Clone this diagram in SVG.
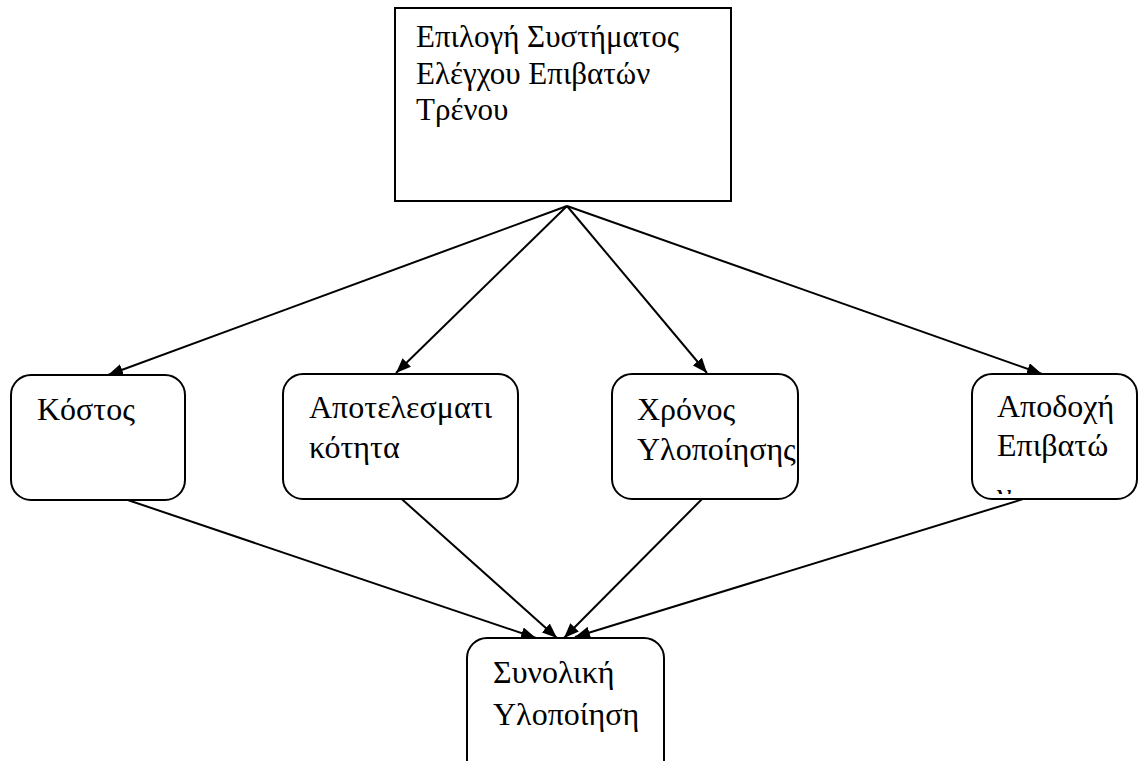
<svg xmlns="http://www.w3.org/2000/svg" width="1138" height="761" viewBox="0 0 1138 761">
  <style>
    .box { fill: #fff; stroke: #000; stroke-width: 2; }
    .label { font-family: "Liberation Serif", "DejaVu Serif", serif; font-size: 32px; fill: #000; }
    .title { font-size: 31px; }
    .edge { stroke: #000; stroke-width: 2; fill: none; marker-end: url(#arrow); }
  </style>
  <defs>
    <marker id="arrow" viewBox="0 0 15 12" refX="15" refY="6" markerWidth="15" markerHeight="12" markerUnits="userSpaceOnUse" orient="auto">
      <path d="M0,0 L15,6 L0,12 Z" fill="#000"/>
    </marker>
    <clipPath id="clip-acceptance">
      <rect x="974" y="377" width="164" height="117"/>
    </clipPath>
  </defs>
  <rect width="1138" height="761" fill="#fff"/>

  <g id="connectors">
    <line class="edge" x1="567" y1="206" x2="108" y2="375"/>
    <line class="edge" x1="567" y1="206" x2="396" y2="373"/>
    <line class="edge" x1="567" y1="206" x2="707" y2="373"/>
    <line class="edge" x1="567" y1="206" x2="1042" y2="374"/>
    <line class="edge" x1="107" y1="493" x2="536" y2="638"/>
    <line class="edge" x1="395" y1="493" x2="557" y2="638"/>
    <line class="edge" x1="707" y1="494" x2="564" y2="638"/>
    <line class="edge" x1="1043" y1="493" x2="575" y2="637"/>
  </g>

  <g id="node-system">
    <rect class="box" x="395" y="8" width="336" height="193"/>
    <text class="label title" x="416" y="47">Επιλογή Συστήματος</text>
    <text class="label title" x="416" y="84">Ελέγχου Επιβατών</text>
    <text class="label title" x="416" y="120">Τρένου</text>
  </g>

  <g id="node-cost">
    <rect class="box" x="11" y="375" width="174" height="125" rx="20"/>
    <text class="label" x="37" y="420">Κόστος</text>
  </g>

  <g id="node-effectiveness">
    <rect class="box" x="283" y="374" width="235" height="125" rx="20"/>
    <text class="label" x="309" y="418">Αποτελεσματι</text>
    <text class="label" x="309" y="458">κότητα</text>
  </g>

  <g id="node-time">
    <rect class="box" x="612" y="374" width="186" height="125" rx="20"/>
    <text class="label" x="637" y="420">Χρόνος</text>
    <text class="label" x="637" y="460">Υλοποίησης</text>
  </g>

  <g id="node-acceptance">
    <rect class="box" x="972" y="374" width="165" height="125" rx="20"/>
    <g clip-path="url(#clip-acceptance)">
      <text class="label" x="997" y="417">Αποδοχή</text>
      <text class="label" x="997" y="456">Επιβατώ</text>
      <text class="label" x="997" y="505">ν</text>
    </g>
  </g>

  <g id="node-total">
    <rect class="box" x="467" y="638" width="197" height="150" rx="20"/>
    <text class="label" x="493" y="683">Συνολική</text>
    <text class="label" x="493" y="725">Υλοποίηση</text>
  </g>
</svg>
